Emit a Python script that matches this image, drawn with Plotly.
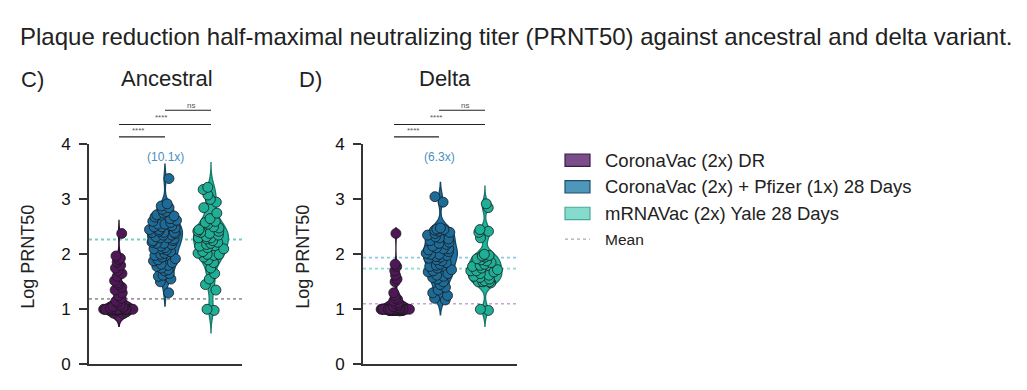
import plotly.graph_objects as go

# ---------------- data ----------------
groups = ["CoronaVac (2x) DR", "CoronaVac (2x) + Pfizer (1x) 28 Days", "mRNAVac (2x) Yale 28 Days"]
panels = ["Ancestral", "Delta"]
panel_letters = ["C)", "D)"]

anc_dr = [2.38, 1.97, 1.93, 1.90, 1.86, 1.80, 1.75, 1.70, 1.65, 1.60, 1.52, 1.48, 1.45, 1.40,
          1.35, 1.30, 1.25, 1.20, 1.15, 1.12, 1.08, 1.05, 1.05, 1.03, 1.02] + [1.0] * 24 + \
         [0.98, 0.97, 0.95, 0.93, 0.92]
anc_pf = [3.38, 2.92, 2.88, 2.85, 2.82, 2.78, 2.75, 2.72, 2.70, 2.68, 2.65, 2.62, 2.60, 2.58,
          2.55, 2.55, 2.52, 2.50, 2.50, 2.48, 2.45, 2.45, 2.42, 2.40, 2.40, 2.40, 2.38, 2.35,
          2.35, 2.32, 2.30, 2.30, 2.28, 2.25, 2.25, 2.22, 2.20, 2.20, 2.18, 2.15, 2.12, 2.10,
          2.10, 2.08, 2.05, 2.02, 2.00, 1.98, 1.95, 1.92, 1.90, 1.88, 1.85, 1.82, 1.80, 1.78,
          1.75, 1.72, 1.70, 1.65, 1.62, 1.60, 1.55, 1.50, 1.30]
anc_mr = [3.22, 3.18, 3.08, 3.00, 2.95, 2.85, 2.75, 2.65, 2.60, 2.58, 2.55, 2.50, 2.48, 2.45,
          2.42, 2.42, 2.40, 2.38, 2.35, 2.32, 2.30, 2.30, 2.28, 2.25, 2.22, 2.20, 2.18, 2.15,
          2.12, 2.10, 2.05, 2.02, 2.00, 2.00, 1.98, 1.95, 1.90, 1.85, 1.75, 1.65, 1.55, 1.45,
          1.35, 1.00, 0.98]
del_dr = [2.38, 1.82, 1.78, 1.70, 1.62, 1.55, 1.50, 1.30, 1.25, 1.20, 1.18, 1.15, 1.12, 1.10,
          1.08, 1.05, 1.05, 1.03, 1.02] + [1.0] * 30 + [0.98, 0.97]
del_pf = [3.05, 2.95, 2.48, 2.46, 2.45, 2.44, 2.42, 2.40, 2.38, 2.35, 2.32, 2.30, 2.28, 2.25,
          2.22, 2.20, 2.18, 2.15, 2.12, 2.10, 2.10, 2.08, 2.05, 2.02, 2.00, 2.00, 1.98, 1.96,
          1.95, 1.93, 1.90, 1.88, 1.85, 1.82, 1.80, 1.78, 1.75, 1.72, 1.70, 1.68, 1.65, 1.62,
          1.60, 1.58, 1.55, 1.50, 1.45, 1.40, 1.35, 1.30, 1.25, 1.20, 1.17]
del_mr = [2.92, 2.85, 2.45, 2.42, 2.40, 2.30, 2.00, 1.98, 1.97, 1.95, 1.92, 1.90, 1.88, 1.85,
          1.82, 1.80, 1.78, 1.75, 1.72, 1.70, 1.70, 1.68, 1.65, 1.62, 1.60, 1.58, 1.55, 1.52,
          1.50, 1.50, 1.50, 1.48, 1.00, 0.98]

panel_data = [[anc_dr, anc_pf, anc_mr], [del_dr, del_pf, del_mr]]
violin_spans = [[[0.69, 2.62], [1.06, 3.64], [0.57, 3.67]],
                [[0.89, 2.48], [0.90, 3.31], [0.69, 3.24]]]
group_means = [[1.19, 2.27, 2.27], [1.10, 1.94, 1.74]]
fold_labels = ["(10.1x)", "(6.3x)"]
sig_labels = ["****", "****", "ns"]          # 1v2, 1v3, 2v3
sig_pairs = [(0, 1), (0, 2), (1, 2)]
y_ticks = [0, 1, 2, 3, 4]

# ---------------- styling ----------------
W, H = 1027, 390
OFF = 8   # page body margin
FONT = "Liberation Sans, Arial, sans-serif"
dot_colors = ["#4f1757", "#1d6b98", "#1fae96"]
violin_fill = ["#5a1f61", "#1f70a0", "#22b39b"]
violin_line = ["#2e0c34", "#124866", "#177a6a"]
legend_fill = ["#7b4e8b", "#4e97ba", "#86dccc"]
legend_edge = ["#3a1f44", "#1f4f6a", "#4aa89a"]
mean_colors = [["#9a9a9a", "#5fb3c6", "#6fcfc0"], ["#c7a4d2", "#8fc8e3", "#83e0cc"]]
bw = [[0.10, 0.12, 0.15], [0.09, 0.12, 0.11]]

# pixel geometry of the two panels (screen pixels)
x_dom_px = [(89, 242), (363, 517)]
x_range = [(-0.652, 2.674), (-0.74, 2.72)]
y_dom_px = (373, 142)   # y=0, y=4 in pixels from top


def px(x):
    return (x - OFF) / W


def py(y):
    return 1 - (y - OFF) / H


fig = go.Figure()

for p in range(2):
    xa = "x" if p == 0 else "x2"
    ya = "y" if p == 0 else "y2"
    for g in range(3):
        vals = panel_data[p][g]
        fig.add_trace(go.Violin(
            x=[g] * len(vals), y=vals, xaxis=xa, yaxis=ya,
            width=0.76, scalemode="width", bandwidth=bw[p][g],
            spanmode="manual", span=violin_spans[p][g],
            fillcolor=violin_fill[g], line=dict(color=violin_line[g], width=1.3),
            points="all", pointpos=0, jitter=0.9,
            marker=dict(size=10, color=dot_colors[g], line=dict(color="#1a1a1a", width=0.8)),
            showlegend=False, hoverinfo="skip", opacity=1,
        ))
    # mean lines
    for g in range(3):
        fig.add_shape(type="line", xref=f"{xa} domain", yref=ya, x0=0, x1=1,
                      y0=group_means[p][g], y1=group_means[p][g], layer="below",
                      line=dict(color=mean_colors[p][g], width=1.6, dash="dot"))

axis_common = dict(showgrid=False, zeroline=False, showline=True, linecolor="#333333",
                   linewidth=1.6)
layout_axes = {}
for p in range(2):
    sx = "xaxis" if p == 0 else "xaxis2"
    sy = "yaxis" if p == 0 else "yaxis2"
    layout_axes[sx] = dict(domain=[px(x_dom_px[p][0]), px(x_dom_px[p][1])],
                           range=list(x_range[p]), showticklabels=False, ticks="",
                           anchor="y" if p == 0 else "y2", **axis_common)
    layout_axes[sy] = dict(domain=[py(y_dom_px[0]), py(y_dom_px[1])], range=[0, 4],
                           tickvals=y_ticks, ticks="outside", ticklen=8, tickwidth=1.6,
                           tickcolor="#333333", ticklabelstandoff=5,
                           tickfont=dict(size=17, color="#111111", family=FONT),
                           anchor="x" if p == 0 else "x2", **axis_common)

fig.update_layout(width=W, height=H, margin=dict(l=0, r=0, t=0, b=0),
                  paper_bgcolor="white", plot_bgcolor="white",
                  font=dict(family=FONT, color="#222222"), **layout_axes)

ann = []


def add_text(text, x, y, size, color="#222222", xanchor="center", angle=0):
    ann.append(dict(text=text, x=px(x), y=py(y), xref="paper", yref="paper",
                    xanchor=xanchor, yanchor="middle", showarrow=False, textangle=angle,
                    font=dict(size=size, color=color, family=FONT)))


# main title
add_text("Plaque reduction half-maximal neutralizing titer (PRNT50) against ancestral and delta variant.",
         18, 28, 24, xanchor="left")

letter_x = [19, 297]
title_cx = [167, 445]
ytitle_x = [28, 303]
group_px = [[119, 165, 211], [394, 439, 485]]
bar_y = [134, 121, 106]
lab_y = [127.5, 114, 101.5]
for p in range(2):
    add_text(panel_letters[p], letter_x[p], 74, 22, xanchor="left")
    add_text(panels[p], title_cx[p], 73, 22)
    add_text("Log PRNT50", ytitle_x[p], 260, 18, angle=-90)
    add_text(fold_labels[p], group_px[p][1], 155, 12, color="#4a8fbf")
    for k, (a, b) in enumerate(sig_pairs):
        x0, x1 = group_px[p][a], group_px[p][b]
        fig.add_shape(type="line", xref="paper", yref="paper", x0=px(x0), x1=px(x1),
                      y0=py(bar_y[k]), y1=py(bar_y[k]), line=dict(color="#222222", width=1.2))
        cx = (x0 + x1) / 2 + (3 if k == 2 else -4)
        add_text(sig_labels[k], cx, lab_y[k], 8, color="#555555")

# custom legend
leg_rows = [158.5, 186.5, 214.5]
for g in range(3):
    fig.add_shape(type="rect", xref="paper", yref="paper", x0=px(565), x1=px(590),
                  y0=py(leg_rows[g] - 6.5), y1=py(leg_rows[g] + 6.5),
                  fillcolor=legend_fill[g], line=dict(color=legend_edge[g], width=1.2))
    add_text(groups[g], 603, leg_rows[g], 18.5, xanchor="left")
fig.add_shape(type="line", xref="paper", yref="paper", x0=px(565), x1=px(590),
              y0=py(241.5), y1=py(241.5), line=dict(color="#aaaaaa", width=1.4, dash="dot"))
add_text("Mean", 603, 241.5, 15.5, xanchor="left")

fig.update_layout(annotations=ann)
fig.write_html("out.html")
